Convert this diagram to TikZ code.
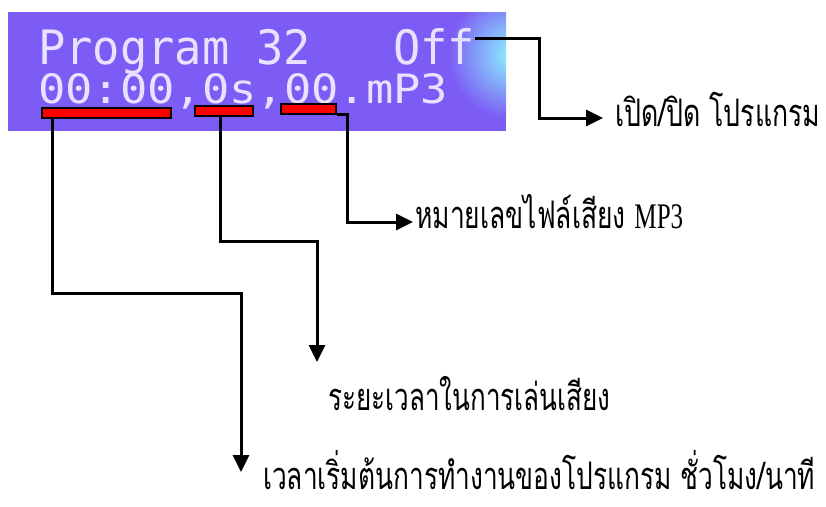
\documentclass[tikz,border=0pt]{standalone}
\usepackage{graphicx}
\usepackage{fontspec}
\usetikzlibrary{arrows.meta}
\newfontfamily\thaifont[Script=Thai]{Loma}
\newfontfamily\lcdfont{DejaVu Sans Mono}
\newfontfamily\latinserif{Liberation Serif}
\definecolor{lcdbg}{RGB}{125,92,245}
\definecolor{lcdtxt}{RGB}{230,226,255}
\definecolor{glow}{RGB}{140,245,255}
\begin{document}
\begin{tikzpicture}[x=1pt,y=-1pt,
  redbar/.style={draw=black, line width=1.8pt, fill=red, inner sep=0pt, minimum height=10pt},
  conn/.style={draw=black, line width=3pt},
  arr/.style={conn, -{Triangle[length=17pt,width=16pt]}},
  thailbl/.style={inner sep=0pt, anchor=base west, font=\thaifont\fontsize{38}{44}\selectfont},
  lcdtext/.style={inner sep=0pt, anchor=base west, text=lcdtxt, font=\lcdfont\fontsize{50}{50}\selectfont}]
\useasboundingbox (0,0) rectangle (826,506);
\fill[white] (0,0) rectangle (826,506);
% LCD panel
\node[fill=lcdbg, inner sep=0pt, minimum width=498pt, minimum height=119pt] (lcd) at (257,71.5) {};
\begin{scope}
  \clip (8,12) rectangle (506,131);
  \shade[inner color=glow, outer color=lcdbg] (512,55) circle (64);
\end{scope}
\node[lcdtext] (line1) at (38,64) {\resizebox{437pt}{36pt}{Program 32\ \ \ Off}};
\node[lcdtext] (line2) at (38,103) {\resizebox{410pt}{30pt}{00:00,0s,00.mP3}};
% red markers
\node[redbar, minimum width=129pt] (b1) at (106.5,113) {};
\node[redbar, minimum width=58pt] (b2) at (224,111) {};
\node[redbar, minimum width=55pt] (b3) at (308.5,109) {};
% labels
\node[thailbl] (t1) at (615,126) {\resizebox{205pt}{\height}{เปิด/ปิด โปรแกรม}};
\node[thailbl] (t3) at (415,228) {\resizebox{268pt}{\height}{หมายเลขไฟล์เสียง {\latinserif\fontsize{36}{40}\selectfont MP3}}};
\node[thailbl] (t2) at (328,410) {\resizebox{282pt}{\height}{ระยะเวลาในการเล่นเสียง}};
\node[thailbl] (t4) at (263,489) {\resizebox{552pt}{\height}{เวลาเริ่มต้นการทำงานของโปรแกรม ชั่วโมง/นาที}};
% connector ends
\coordinate (off) at (475,38);
\coordinate (tip1) at (603,118);
\coordinate (tip3) at (413,222);
\coordinate (tip2) at (317,362);
\coordinate (tip4) at (241,472);
% connectors
\draw[arr] (off) -| (539,118) -- (tip1);
\draw[arr] (b3.south east) -| (347,222) -- (tip3);
\draw[arr] (b2.south -| 220,0) |- (317,241) -- (tip2);
\draw[arr] (b1.south -| 52,0) |- (241,293) -- (tip4);
\end{tikzpicture}
\end{document}
